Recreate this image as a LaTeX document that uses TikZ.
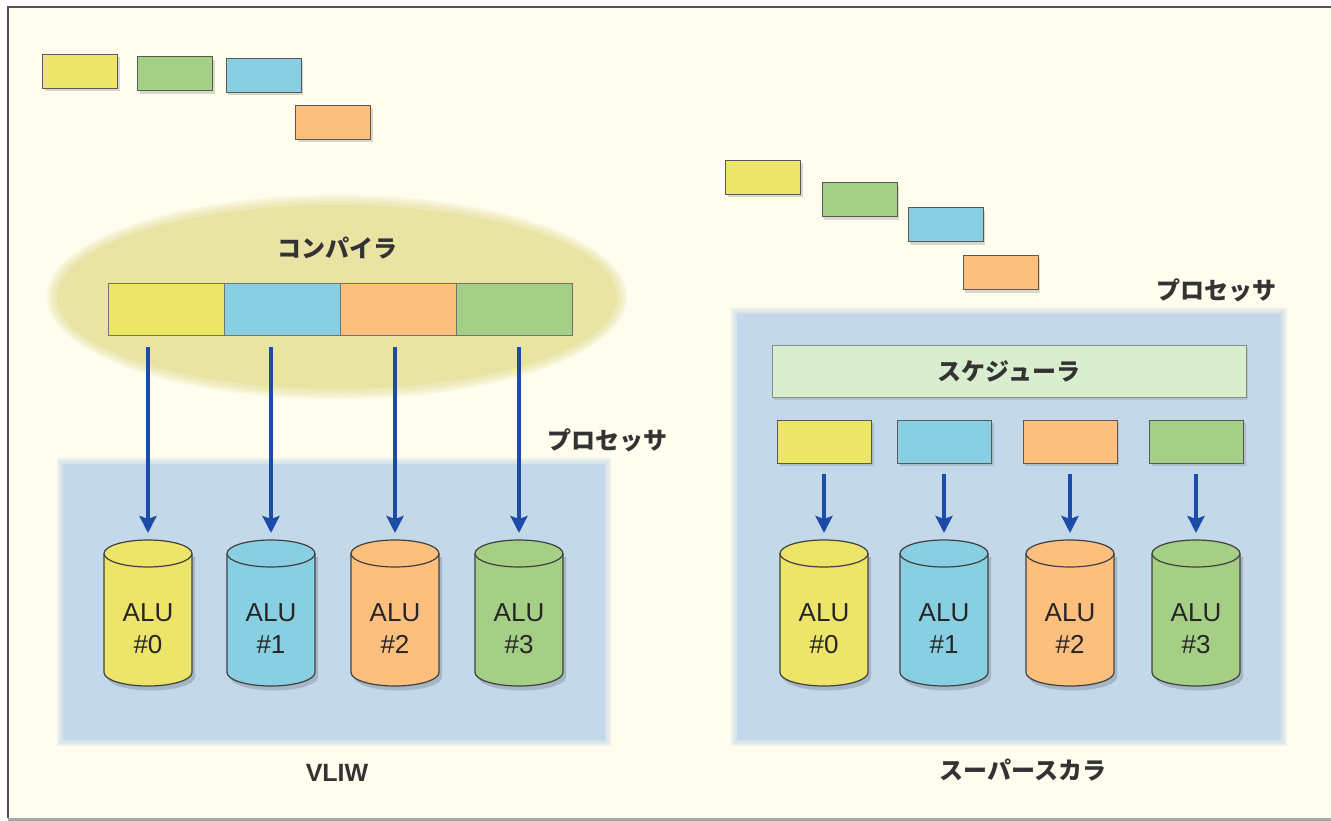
\documentclass[tikz,border=0pt]{standalone}
\usepackage{fontspec}
\setmainfont{Liberation Sans}
\newfontfamily\jpfont{Noto Sans CJK JP}
\usetikzlibrary{arrows.meta,shadows}
\definecolor{bgc}{HTML}{FEFDEE}
\definecolor{framec}{HTML}{5E4A5E}
\definecolor{cyel}{HTML}{EDE46A}
\definecolor{cblu}{HTML}{89CFE2}
\definecolor{cora}{HTML}{FDBF7E}
\definecolor{cgre}{HTML}{A4CF84}
\definecolor{cell}{HTML}{E9E3A4}
\definecolor{cproc}{HTML}{C3D8E8}
\definecolor{csch}{HTML}{D9EDCF}
\definecolor{carrow}{HTML}{1C4BA8}
\tikzset{
  ibox/.style={draw=black!65, line width=1pt, inner sep=0pt, minimum width=75pt, minimum height=34pt,
    drop shadow={opacity=.3, shadow xshift=2pt, shadow yshift=-3pt}},
  rbox/.style={ibox, minimum width=94pt, minimum height=43pt},
  barseg/.style={draw=black!55, line width=0.8pt, inner sep=0pt, minimum width=116pt, minimum height=52pt},
  flow/.style={carrow, line width=3.5pt, -{Stealth[length=17pt, width=17pt, inset=3pt]}},
  jplabel/.style={font=\jpfont\bfseries\fontsize{24}{28}\selectfont, text=black!80},
  latlabel/.style={font=\bfseries\fontsize{25}{28}\selectfont, text=black!80},
  alutext/.style={font=\fontsize{26}{32}\selectfont, text=black!85, align=center},
  cylline/.style={draw=black!75, line width=1.2pt}
}
\newcommand{\alucyl}[4]{%
  \fill[black, opacity=.15] (#1-41,557) -- (#1-41,677) arc[start angle=180, end angle=360, x radius=44pt, y radius=13.5pt] -- (#1+47,557) -- cycle;
  \draw[cylline, fill=#2] (#1-44,553.5) -- (#1-44,672.5) arc[start angle=180, end angle=360, x radius=44pt, y radius=13.5pt] -- (#1+44,553.5) arc[start angle=0, end angle=180, x radius=44pt, y radius=13.5pt] -- cycle;
  \draw[cylline] (#1-44,553.5) arc[start angle=180, end angle=360, x radius=44pt, y radius=13.5pt];
  \coordinate (#3top) at (#1,540);
  \node[alutext] (#3) at (#1,629) {ALU\\[0pt]\##4};
}
\begin{document}
\begin{tikzpicture}[x=1pt, y=-1pt]
\useasboundingbox (0,0) rectangle (1331,821);
\fill[white] (0,0) rectangle (1331,821);
\fill[bgc] (8,7) rectangle (1331,818);
\draw[framec, line width=2.5pt] (8,818) -- (8,7) -- (1331,7);
\draw[black!35, line width=3pt] (8,819.5) -- (1331,819.5);

% ---------- left: VLIW ----------
\node[ibox, fill=cyel] (lq0) at (80,71.5) {};
\node[ibox, fill=cgre] (lq1) at (175,74) {};
\node[ibox, fill=cblu] (lq2) at (263.5,75.5) {};
\node[ibox, fill=cora] (lq3) at (333,122.5) {};

\foreach \d in {10,8,6,4,2}
  \fill[cell, opacity=.22] (337,297) ellipse[x radius={280pt+\d pt}, y radius={92pt+\d pt}];
\fill[cell] (337,297) ellipse[x radius=280pt, y radius=92pt];
\node[jplabel] (comp) at (337,248) {コンパイラ};

\node[barseg, fill=cyel] (b0) at (166,309) {};
\node[barseg, fill=cblu] (b1) at (282,309) {};
\node[barseg, fill=cora] (b2) at (398,309) {};
\node[barseg, fill=cgre] (b3) at (514,309) {};

\foreach \d in {6,4,2}
  \fill[cproc, opacity=.3] (63-\d,464-\d) rectangle (605+\d,740+\d);
\fill[cproc] (63,464) rectangle (605,740);
\node[jplabel] (lproc) at (607,440) {プロセッサ};

\alucyl{148}{cyel}{la0}{0}
\alucyl{271}{cblu}{la1}{1}
\alucyl{395}{cora}{la2}{2}
\alucyl{519}{cgre}{la3}{3}

\draw[flow, shorten <=12pt, shorten >=7pt] (b0.south -| la0top) -- (la0top);
\draw[flow, shorten <=12pt, shorten >=7pt] (b1.south -| la1top) -- (la1top);
\draw[flow, shorten <=12pt, shorten >=7pt] (b2.south -| la2top) -- (la2top);
\draw[flow, shorten <=12pt, shorten >=7pt] (b3.south -| la3top) -- (la3top);

\node[latlabel] (vliw) at (337,773) {VLIW};

% ---------- right: superscalar ----------
\node[ibox, fill=cyel] (rq0) at (763,177.5) {};
\node[ibox, fill=cgre] (rq1) at (859.5,200) {};
\node[ibox, fill=cblu] (rq2) at (945.5,225) {};
\node[ibox, fill=cora] (rq3) at (1000.5,272.5) {};

\node[jplabel] (rproc) at (1216,290) {プロセッサ};
\foreach \d in {6,4,2}
  \fill[cproc, opacity=.3] (737-\d,314-\d) rectangle (1281+\d,740+\d);
\fill[cproc] (737,314) rectangle (1281,740);

\node[draw=black!45, line width=0.8pt, fill=csch, minimum width=474pt, minimum height=52pt, inner sep=0pt,
  drop shadow={opacity=.25, shadow xshift=2pt, shadow yshift=-3pt}] (sched) at (1009,371) {};
\node[jplabel] at (sched.center) {スケジューラ};

\node[rbox, fill=cyel] (r0) at (824.5,441.5) {};
\node[rbox, fill=cblu] (r1) at (944.5,441.5) {};
\node[rbox, fill=cora] (r2) at (1070,441.5) {};
\node[rbox, fill=cgre] (r3) at (1196.5,441.5) {};

\alucyl{824}{cyel}{ra0}{0}
\alucyl{944}{cblu}{ra1}{1}
\alucyl{1070}{cora}{ra2}{2}
\alucyl{1196}{cgre}{ra3}{3}

\draw[flow, shorten <=10pt, shorten >=7pt] (r0.south -| ra0top) -- (ra0top);
\draw[flow, shorten <=10pt, shorten >=7pt] (r1.south -| ra1top) -- (ra1top);
\draw[flow, shorten <=10pt, shorten >=7pt] (r2.south -| ra2top) -- (ra2top);
\draw[flow, shorten <=10pt, shorten >=7pt] (r3.south -| ra3top) -- (ra3top);

\node[jplabel] (ssc) at (1023,770) {スーパースカラ};
\end{tikzpicture}
\end{document}
